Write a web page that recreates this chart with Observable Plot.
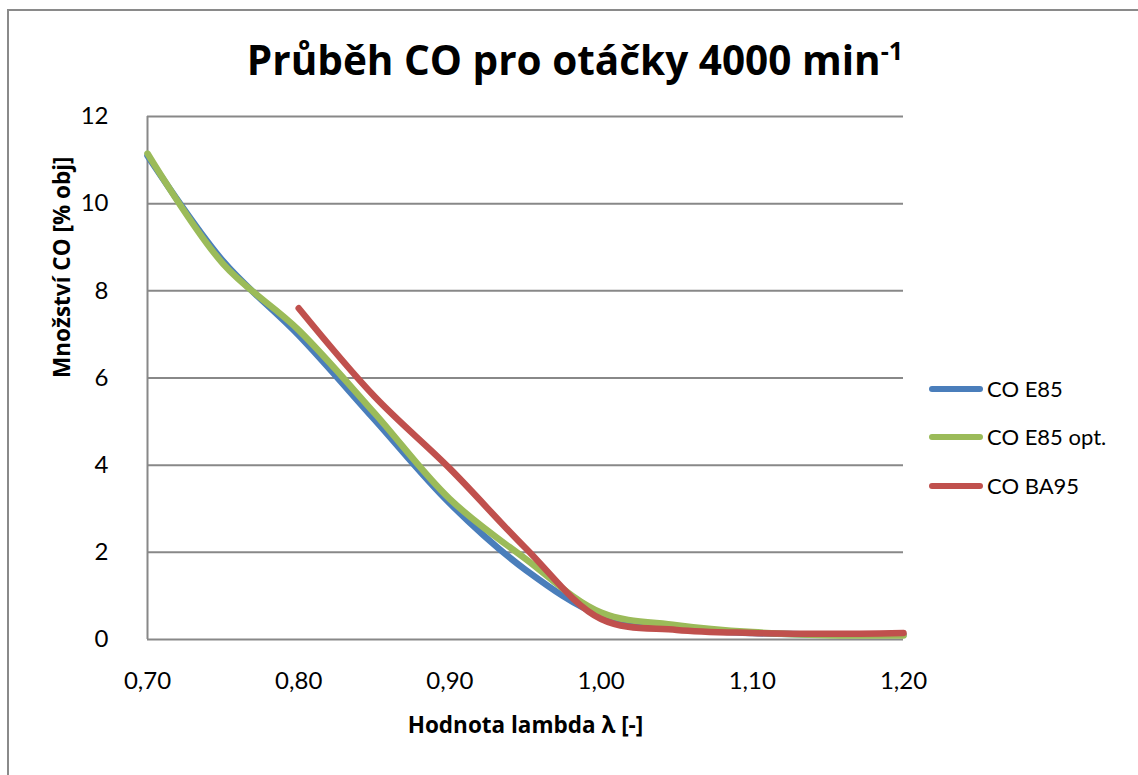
<!DOCTYPE html>
<html>
<head>
<meta charset="utf-8">
<script src="https://cdn.jsdelivr.net/npm/d3@7"></script>
<script src="https://cdn.jsdelivr.net/npm/@observablehq/plot@0.6"></script>
<style>
  html, body { margin: 0; padding: 0; overflow: hidden; background: #fff; width: 1138px; height: 775px; }
  #frame { position: absolute; left: 7px; top: 9px; width: 1400px; height: 1000px; border-left: 2px solid #8a8a8a; border-top: 2px solid #8a8a8a; }
  #title { position: absolute; left: 0; top: 10px; width: 1150px; height: 100px; text-align: center; font-family: "Open Sans", Lato, sans-serif; font-weight: bold; font-size: 40.5px; line-height: 100px; color: #000; }
  #title sup { font-size: 0.62em; vertical-align: 0.6em; line-height: 0; }
  #chart { position: absolute; left: 0; top: 100px; }
  .leg { position: absolute; left: 929px; height: 30px; font-family: Lato, sans-serif; font-size: 22px; color: #000; }
  .leg .sw { position: absolute; left: 0; top: 12px; width: 54px; height: 6px; border-radius: 3px; }
  .leg .lb { position: absolute; left: 58px; top: 0; line-height: 30px; white-space: nowrap; }
</style>
</head>
<body>
<div id="frame"></div>
<div id="title">Průběh CO pro otáčky 4000 min<sup>-1</sup></div>
<div id="chart"></div>
<div id="legend"></div>
<script>
// Data
const lambda = [0.70, 0.75, 0.80, 0.85, 0.90, 0.95, 1.00, 1.05, 1.10, 1.15, 1.20];
const coE85 = [11.10, 8.68, 6.98, 5.05, 3.12, 1.60, 0.55, 0.25, 0.15, 0.11, 0.11];
const coE85opt = [11.15, 8.62, 7.10, 5.20, 3.22, 1.85, 0.62, 0.33, 0.17, 0.10, 0.09];
const lambdaBA = [0.80, 0.85, 0.90, 0.95, 1.00, 1.05, 1.10, 1.15, 1.20];
const coBA95 = [7.60, 5.58, 3.92, 2.10, 0.47, 0.22, 0.15, 0.13, 0.15];

const seriesNames = ["CO E85", "CO E85 opt.", "CO BA95"];
const seriesColors = ["#4a7ebb", "#9bbb59", "#c0504d"];
const xTicks = [0.70, 0.80, 0.90, 1.00, 1.10, 1.20];
const yTicks = [0, 2, 4, 6, 8, 10, 12];
const xLabel = "Hodnota lambda λ [-]";
const yLabel = "Množství CO [% obj]";

const e85 = lambda.map((x, i) => ({x, y: coE85[i]}));
const e85opt = lambda.map((x, i) => ({x, y: coE85opt[i]}));
const ba95 = lambdaBA.map((x, i) => ({x, y: coBA95[i]}));

const gridColor = "#888888";
const lw = 6.5;

const plot = Plot.plot({
  width: 1138,
  height: 675,
  marginTop: 16,
  marginBottom: 136,
  marginLeft: 147,
  marginRight: 235,
  style: {fontFamily: "Lato, sans-serif", fontSize: "24px", color: "#000", background: "transparent"},
  x: {domain: [0.70, 1.20]},
  y: {domain: [0, 12]},
  marks: [
    Plot.gridY(yTicks, {stroke: gridColor, strokeOpacity: 1, strokeWidth: 2}),
    Plot.ruleX([0.70], {stroke: gridColor, strokeWidth: 2}),
    Plot.axisX({ticks: xTicks, tickFormat: d => d.toFixed(2).replace(".", ","), tickSize: 0, tickPadding: 32, label: null, fontSize: 24}),
    Plot.axisY({ticks: yTicks, tickSize: 0, tickPadding: 39, label: null, fontSize: 24}),
    Plot.line(e85, {x: "x", y: "y", stroke: seriesColors[0], strokeWidth: lw, curve: "catmull-rom"}),
    Plot.line(e85opt, {x: "x", y: "y", stroke: seriesColors[1], strokeWidth: lw, curve: "catmull-rom"}),
    Plot.line(ba95, {x: "x", y: "y", stroke: seriesColors[2], strokeWidth: lw, curve: "catmull-rom"}),
    Plot.text([xLabel], {text: d => d, frameAnchor: "bottom", dy: 93, fontWeight: "bold", fontSize: 22.5, fontFamily: "Open Sans, sans-serif"}),
    Plot.text([yLabel], {text: d => d, frameAnchor: "left", dx: -85, rotate: -90, fontWeight: "bold", fontSize: 22.5, fontFamily: "Open Sans, sans-serif"})
  ]
});
document.getElementById("chart").appendChild(plot);

// Legend
const legTops = [374, 422, 471];
const legend = document.getElementById("legend");
seriesNames.forEach((name, i) => {
  const d = document.createElement("div");
  d.className = "leg";
  d.style.top = legTops[i] + "px";
  d.innerHTML = `<div class="sw" style="background:${seriesColors[i]}"></div><div class="lb">${name}</div>`;
  legend.appendChild(d);
});
</script>
</body>
</html>
